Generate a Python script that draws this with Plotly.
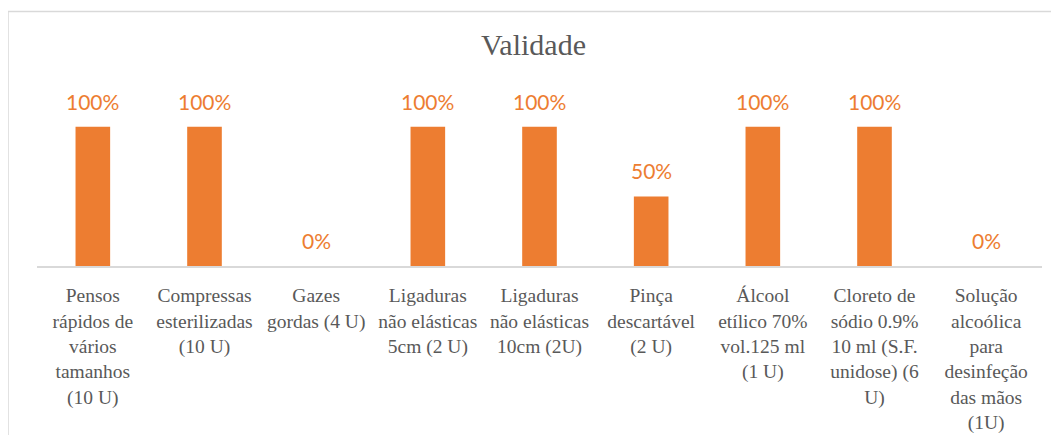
import plotly.graph_objects as go

categories = [
    "Pensos<br>rápidos de<br>vários<br>tamanhos<br>(10 U)",
    "Compressas<br>esterilizadas<br>(10 U)",
    "Gazes<br>gordas (4 U)",
    "Ligaduras<br>não elásticas<br>5cm (2 U)",
    "Ligaduras<br>não elásticas<br>10cm (2U)",
    "Pinça<br>descartável<br>(2 U)",
    "Álcool<br>etílico 70%<br>vol.125 ml<br>(1 U)",
    "Cloreto de<br>sódio 0.9%<br>10 ml (S.F.<br>unidose) (6<br>U)",
    "Solução<br>alcoólica<br>para<br>desinfeção<br>das mãos<br>(1U)",
]
values = [1.0, 1.0, 0.0, 1.0, 1.0, 0.5, 1.0, 1.0, 0.0]
labels = ["100%", "100%", "0%", "100%", "100%", "50%", "100%", "100%", "0%"]

ORANGE = "#ED7D31"
GREY = "#595959"

fig = go.Figure()
fig.add_trace(go.Bar(
    x=list(range(len(categories))), y=values, marker_color=ORANGE,
    marker_line_width=0, width=0.31, hoverinfo="skip",
))

for i, (v, t) in enumerate(zip(values, labels)):
    fig.add_annotation(x=i, y=v, text=t, showarrow=False, yanchor="bottom",
                       yshift=11, font=dict(family="Lato", size=21, color=ORANGE))

OFF = 8  # default page body margin
L, T = 37 - OFF, 99 - OFF
pw, ph = 1005, 167
W, H = 1059 - OFF, 435 - OFF
R, B = W - L - pw, H - T - ph

fig.add_shape(type="rect", xref="paper", yref="paper",
              x0=(0 - L) / pw, x1=(W + 20 - L) / pw,
              y0=(-30 - (H - B)) / ph, y1=((H - B) - 3.5) / ph,
              line=dict(color="#d9d9d9", width=1.5), fillcolor="rgba(0,0,0,0)", layer="below")

fig.update_layout(
    width=W, height=H,
    margin=dict(l=L, r=R, t=T, b=B, autoexpand=False),
    paper_bgcolor="white", plot_bgcolor="white",
    showlegend=False,
    title=dict(text="Validade", x=0.5, xanchor="center", y=(H - (44 - OFF)) / H, yanchor="middle",
               font=dict(family="Liberation Serif", size=30, color=GREY)),
    xaxis=dict(
        tickmode="array", tickvals=list(range(len(categories))), ticktext=categories,
        range=[-0.5, len(categories) - 0.5],
        showline=True, linecolor="#d9d9d9", linewidth=1.5,
        showgrid=False, zeroline=False, automargin=False,
        ticks="outside", ticklen=11, tickcolor="rgba(0,0,0,0)",
        tickangle=0,
        tickfont=dict(family="Liberation Serif", size=19.5, color=GREY),
    ),
    yaxis=dict(range=[0, 1.2], visible=False, showgrid=False, zeroline=False, automargin=False),
)

fig.write_html("out.html")
